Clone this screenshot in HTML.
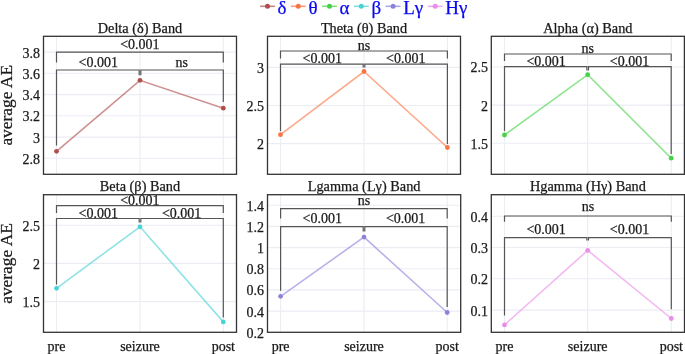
<!DOCTYPE html>
<html><head><meta charset="utf-8"><style>
html,body{margin:0;padding:0;background:#fff;}
body{width:685px;height:354px;overflow:hidden;}
svg{display:block;font-family:"Liberation Serif", serif;will-change:transform;}
text{stroke-width:0.25px;}
</style></head><body>
<svg width="685" height="354" viewBox="0 0 685 354">
<rect width="685" height="354" fill="#fff"/>
<g stroke="#ebedf3" stroke-width="1.1" fill="none">
<line x1="43.5" y1="52.1" x2="236.5" y2="52.1"/>
<line x1="43.5" y1="73.3" x2="236.5" y2="73.3"/>
<line x1="43.5" y1="94.6" x2="236.5" y2="94.6"/>
<line x1="43.5" y1="115.8" x2="236.5" y2="115.8"/>
<line x1="43.5" y1="137.1" x2="236.5" y2="137.1"/>
<line x1="43.5" y1="158.3" x2="236.5" y2="158.3"/>
<line x1="56.5" y1="36.3" x2="56.5" y2="174.3"/>
<line x1="140.0" y1="36.3" x2="140.0" y2="174.3"/>
<line x1="223.3" y1="36.3" x2="223.3" y2="174.3"/>
</g>
<g font-size="14px" fill="#1a1a1a" stroke="#1a1a1a" text-anchor="end">
<text x="40.1" y="57.5">3.8</text>
<text x="40.1" y="78.7">3.6</text>
<text x="40.1" y="100.0">3.4</text>
<text x="40.1" y="121.2">3.2</text>
<text x="40.1" y="142.5">3</text>
<text x="40.1" y="163.7">2.8</text>
</g>
<text x="140.0" y="32.8" font-size="14.3px" fill="#1a1a1a" stroke="#1a1a1a" text-anchor="middle">Delta (δ) Band</text>
<polyline points="56.5,151.3 140.0,80.3 223.3,108.2" fill="none" stroke="#b24d4d" stroke-opacity="0.62" stroke-width="1.6"/>
<circle cx="56.5" cy="151.3" r="2.4" fill="#b24d4d"/>
<circle cx="140.0" cy="80.3" r="2.4" fill="#b24d4d"/>
<circle cx="223.3" cy="108.2" r="2.4" fill="#b24d4d"/>
<g stroke="#555555" stroke-width="1.2" fill="none">
<polyline points="56.5,62.5 56.5,52.1 223.3,52.1 223.3,62.5"/>
<polyline points="56.5,145.6 56.5,70.0 139.2,70.0 139.2,75.3"/>
<polyline points="140.8,75.3 140.8,70.0 223.3,70.0 223.3,102.1"/>
</g>
<clipPath id="cDelta"><rect x="43.5" y="36.3" width="193.0" height="138.0"/></clipPath>
<g font-size="14px" fill="#1a1a1a" stroke="#1a1a1a" text-anchor="middle" clip-path="url(#cDelta)">
<text x="139.9" y="49.0">&lt;0.001</text>
<text x="98.25" y="66.5">&lt;0.001</text>
<text x="181.65" y="66.5">ns</text>
</g>
<rect x="43.5" y="36.3" width="193.0" height="138.0" fill="none" stroke="#333333" stroke-width="1.3"/>
<text transform="translate(12.3,105.3) rotate(-90)" font-size="17.4px" fill="#1a1a1a" stroke="#1a1a1a" text-anchor="middle">average AE</text>
<g stroke="#ebedf3" stroke-width="1.1" fill="none">
<line x1="267.5" y1="67.4" x2="460.5" y2="67.4"/>
<line x1="267.5" y1="105.5" x2="460.5" y2="105.5"/>
<line x1="267.5" y1="143.6" x2="460.5" y2="143.6"/>
<line x1="280.5" y1="36.3" x2="280.5" y2="174.3"/>
<line x1="364.0" y1="36.3" x2="364.0" y2="174.3"/>
<line x1="447.4" y1="36.3" x2="447.4" y2="174.3"/>
</g>
<g font-size="14px" fill="#1a1a1a" stroke="#1a1a1a" text-anchor="end">
<text x="264.1" y="72.8">3</text>
<text x="264.1" y="110.9">2.5</text>
<text x="264.1" y="149.0">2</text>
</g>
<text x="364.0" y="32.8" font-size="14.3px" fill="#1a1a1a" stroke="#1a1a1a" text-anchor="middle">Theta (θ) Band</text>
<polyline points="280.5,134.7 364.0,71.5 447.4,147.5" fill="none" stroke="#fa7444" stroke-opacity="0.62" stroke-width="1.6"/>
<circle cx="280.5" cy="134.7" r="2.4" fill="#fa7444"/>
<circle cx="364.0" cy="71.5" r="2.4" fill="#fa7444"/>
<circle cx="447.4" cy="147.5" r="2.4" fill="#fa7444"/>
<g stroke="#555555" stroke-width="1.2" fill="none">
<polyline points="280.5,58.6 280.5,51.0 447.4,51.0 447.4,58.6"/>
<polyline points="280.5,130.9 280.5,64.1 363.2,64.1 363.2,67.4"/>
<polyline points="364.8,67.4 364.8,64.1 447.4,64.1 447.4,144.0"/>
</g>
<clipPath id="cTheta"><rect x="267.5" y="36.3" width="193.0" height="138.0"/></clipPath>
<g font-size="14px" fill="#1a1a1a" stroke="#1a1a1a" text-anchor="middle" clip-path="url(#cTheta)">
<text x="363.95" y="50.0">ns</text>
<text x="322.25" y="63.2">&lt;0.001</text>
<text x="405.7" y="63.2">&lt;0.001</text>
</g>
<rect x="267.5" y="36.3" width="193.0" height="138.0" fill="none" stroke="#333333" stroke-width="1.3"/>
<g stroke="#ebedf3" stroke-width="1.1" fill="none">
<line x1="491.3" y1="67.0" x2="684.4" y2="67.0"/>
<line x1="491.3" y1="105.1" x2="684.4" y2="105.1"/>
<line x1="491.3" y1="143.2" x2="684.4" y2="143.2"/>
<line x1="504.5" y1="36.3" x2="504.5" y2="174.3"/>
<line x1="587.7" y1="36.3" x2="587.7" y2="174.3"/>
<line x1="671.2" y1="36.3" x2="671.2" y2="174.3"/>
</g>
<g font-size="14px" fill="#1a1a1a" stroke="#1a1a1a" text-anchor="end">
<text x="487.90000000000003" y="72.4">2.5</text>
<text x="487.90000000000003" y="110.5">2</text>
<text x="487.90000000000003" y="148.6">1.5</text>
</g>
<text x="587.85" y="32.8" font-size="14.3px" fill="#1a1a1a" stroke="#1a1a1a" text-anchor="middle">Alpha (α) Band</text>
<polyline points="504.5,135.0 587.7,74.7 671.2,158.2" fill="none" stroke="#46d246" stroke-opacity="0.62" stroke-width="1.6"/>
<circle cx="504.5" cy="135.0" r="2.4" fill="#46d246"/>
<circle cx="587.7" cy="74.7" r="2.4" fill="#46d246"/>
<circle cx="671.2" cy="158.2" r="2.4" fill="#46d246"/>
<g stroke="#555555" stroke-width="1.2" fill="none">
<polyline points="504.5,61.0 504.5,54.0 671.2,54.0 671.2,61.0"/>
<polyline points="504.5,130.9 504.5,66.7 586.9000000000001,66.7 586.9000000000001,70.5"/>
<polyline points="588.5,70.5 588.5,66.7 671.2,66.7 671.2,154.1"/>
</g>
<clipPath id="cAlpha"><rect x="491.3" y="36.3" width="193.1" height="138.0"/></clipPath>
<g font-size="14px" fill="#1a1a1a" stroke="#1a1a1a" text-anchor="middle" clip-path="url(#cAlpha)">
<text x="587.85" y="52.8">ns</text>
<text x="546.1" y="65.6">&lt;0.001</text>
<text x="629.45" y="65.6">&lt;0.001</text>
</g>
<rect x="491.3" y="36.3" width="193.1" height="138.0" fill="none" stroke="#333333" stroke-width="1.3"/>
<g stroke="#ebedf3" stroke-width="1.1" fill="none">
<line x1="43.5" y1="225.2" x2="236.5" y2="225.2"/>
<line x1="43.5" y1="263.4" x2="236.5" y2="263.4"/>
<line x1="43.5" y1="301.6" x2="236.5" y2="301.6"/>
<line x1="56.5" y1="194.7" x2="56.5" y2="332.3"/>
<line x1="140.0" y1="194.7" x2="140.0" y2="332.3"/>
<line x1="223.3" y1="194.7" x2="223.3" y2="332.3"/>
</g>
<g font-size="14px" fill="#1a1a1a" stroke="#1a1a1a" text-anchor="end">
<text x="40.1" y="230.6">2.5</text>
<text x="40.1" y="268.8">2</text>
<text x="40.1" y="307.0">1.5</text>
</g>
<text x="140.0" y="190.5" font-size="14.3px" fill="#1a1a1a" stroke="#1a1a1a" text-anchor="middle">Beta (β) Band</text>
<polyline points="56.5,288.3 140.0,226.8 223.3,321.9" fill="none" stroke="#4bd2d7" stroke-opacity="0.62" stroke-width="1.6"/>
<circle cx="56.5" cy="288.3" r="2.4" fill="#4bd2d7"/>
<circle cx="140.0" cy="226.8" r="2.4" fill="#4bd2d7"/>
<circle cx="223.3" cy="321.9" r="2.4" fill="#4bd2d7"/>
<g stroke="#555555" stroke-width="1.2" fill="none">
<polyline points="56.5,212.9 56.5,205.6 223.3,205.6 223.3,212.9"/>
<polyline points="56.5,284.4 56.5,218.5 139.2,218.5 139.2,222.5"/>
<polyline points="140.8,222.5 140.8,218.5 223.3,218.5 223.3,317.6"/>
</g>
<clipPath id="cBeta"><rect x="43.5" y="194.7" width="193.0" height="137.6"/></clipPath>
<g font-size="14px" fill="#1a1a1a" stroke="#1a1a1a" text-anchor="middle" clip-path="url(#cBeta)">
<text x="139.9" y="204.6">&lt;0.001</text>
<text x="98.25" y="217.7">&lt;0.001</text>
<text x="181.65" y="217.7">&lt;0.001</text>
</g>
<rect x="43.5" y="194.7" width="193.0" height="137.6" fill="none" stroke="#333333" stroke-width="1.3"/>
<g font-size="14px" fill="#1a1a1a" stroke="#1a1a1a" text-anchor="middle">
<text x="56.5" y="350.5">pre</text>
<text x="140.0" y="350.5">seizure</text>
<text x="223.3" y="350.5">post</text>
</g>
<text transform="translate(12.3,263.5) rotate(-90)" font-size="17.4px" fill="#1a1a1a" stroke="#1a1a1a" text-anchor="middle">average AE</text>
<g stroke="#ebedf3" stroke-width="1.1" fill="none">
<line x1="267.5" y1="205.2" x2="460.7" y2="205.2"/>
<line x1="267.5" y1="226.4" x2="460.7" y2="226.4"/>
<line x1="267.5" y1="247.6" x2="460.7" y2="247.6"/>
<line x1="267.5" y1="268.7" x2="460.7" y2="268.7"/>
<line x1="267.5" y1="289.9" x2="460.7" y2="289.9"/>
<line x1="267.5" y1="311.1" x2="460.7" y2="311.1"/>
<line x1="280.6" y1="194.7" x2="280.6" y2="332.3"/>
<line x1="364.0" y1="194.7" x2="364.0" y2="332.3"/>
<line x1="447.2" y1="194.7" x2="447.2" y2="332.3"/>
</g>
<g font-size="14px" fill="#1a1a1a" stroke="#1a1a1a" text-anchor="end">
<text x="264.1" y="210.6">1.4</text>
<text x="264.1" y="231.8">1.2</text>
<text x="264.1" y="253.0">1</text>
<text x="264.1" y="274.1">0.8</text>
<text x="264.1" y="295.3">0.6</text>
<text x="264.1" y="316.5">0.4</text>
<text x="264.1" y="337.7">0.2</text>
</g>
<text x="364.1" y="190.5" font-size="14.3px" fill="#1a1a1a" stroke="#1a1a1a" text-anchor="middle">Lgamma (Lγ) Band</text>
<polyline points="280.6,296.3 364.0,237.1 447.2,312.5" fill="none" stroke="#8c82dc" stroke-opacity="0.62" stroke-width="1.6"/>
<circle cx="280.6" cy="296.3" r="2.4" fill="#8c82dc"/>
<circle cx="364.0" cy="237.1" r="2.4" fill="#8c82dc"/>
<circle cx="447.2" cy="312.5" r="2.4" fill="#8c82dc"/>
<g stroke="#555555" stroke-width="1.2" fill="none">
<polyline points="280.6,218.5 280.6,208.6 447.2,208.6 447.2,218.5"/>
<polyline points="280.6,290.7 280.6,226.6 363.2,226.6 363.2,231.4"/>
<polyline points="364.8,231.4 364.8,226.6 447.2,226.6 447.2,307.1"/>
</g>
<clipPath id="cLgamma"><rect x="267.5" y="194.7" width="193.2" height="137.6"/></clipPath>
<g font-size="14px" fill="#1a1a1a" stroke="#1a1a1a" text-anchor="middle" clip-path="url(#cLgamma)">
<text x="363.9" y="205.2">ns</text>
<text x="322.3" y="223.4">&lt;0.001</text>
<text x="405.6" y="223.4">&lt;0.001</text>
</g>
<rect x="267.5" y="194.7" width="193.2" height="137.6" fill="none" stroke="#333333" stroke-width="1.3"/>
<g font-size="14px" fill="#1a1a1a" stroke="#1a1a1a" text-anchor="middle">
<text x="280.6" y="350.5">pre</text>
<text x="364.0" y="350.5">seizure</text>
<text x="447.2" y="350.5">post</text>
</g>
<g stroke="#ebedf3" stroke-width="1.1" fill="none">
<line x1="491.3" y1="216.3" x2="684.5" y2="216.3"/>
<line x1="491.3" y1="247.5" x2="684.5" y2="247.5"/>
<line x1="491.3" y1="278.8" x2="684.5" y2="278.8"/>
<line x1="491.3" y1="310.1" x2="684.5" y2="310.1"/>
<line x1="504.5" y1="194.7" x2="504.5" y2="332.3"/>
<line x1="587.7" y1="194.7" x2="587.7" y2="332.3"/>
<line x1="671.3" y1="194.7" x2="671.3" y2="332.3"/>
</g>
<g font-size="14px" fill="#1a1a1a" stroke="#1a1a1a" text-anchor="end">
<text x="487.90000000000003" y="221.7">0.4</text>
<text x="487.90000000000003" y="252.9">0.3</text>
<text x="487.90000000000003" y="284.2">0.2</text>
<text x="487.90000000000003" y="315.5">0.1</text>
</g>
<text x="587.9" y="190.5" font-size="14.3px" fill="#1a1a1a" stroke="#1a1a1a" text-anchor="middle">Hgamma (Hγ) Band</text>
<polyline points="504.5,324.9 587.7,250.4 671.3,318.5" fill="none" stroke="#eb8ce8" stroke-opacity="0.62" stroke-width="1.6"/>
<circle cx="504.5" cy="324.9" r="2.4" fill="#eb8ce8"/>
<circle cx="587.7" cy="250.4" r="2.4" fill="#eb8ce8"/>
<circle cx="671.3" cy="318.5" r="2.4" fill="#eb8ce8"/>
<g stroke="#555555" stroke-width="1.2" fill="none">
<polyline points="504.5,221.8 504.5,216.0 671.3,216.0 671.3,221.8"/>
<polyline points="504.5,315.4 504.5,237.6 586.9000000000001,237.6 586.9000000000001,240.5"/>
<polyline points="588.5,240.5 588.5,237.6 671.3,237.6 671.3,309.2"/>
</g>
<clipPath id="cHgamma"><rect x="491.3" y="194.7" width="193.2" height="137.6"/></clipPath>
<g font-size="14px" fill="#1a1a1a" stroke="#1a1a1a" text-anchor="middle" clip-path="url(#cHgamma)">
<text x="587.9" y="211.3">ns</text>
<text x="546.1" y="234.2">&lt;0.001</text>
<text x="629.5" y="234.2">&lt;0.001</text>
</g>
<rect x="491.3" y="194.7" width="193.2" height="137.6" fill="none" stroke="#333333" stroke-width="1.3"/>
<g font-size="14px" fill="#1a1a1a" stroke="#1a1a1a" text-anchor="middle">
<text x="504.5" y="350.5">pre</text>
<text x="587.7" y="350.5">seizure</text>
<text x="671.3" y="350.5">post</text>
</g>
<line x1="260.1" y1="6.3" x2="274.9" y2="6.3" stroke="#b24d4d" stroke-opacity="0.7" stroke-width="1.6"/>
<circle cx="267.5" cy="6.3" r="2.5" fill="#b24d4d"/>
<text x="277.6" y="13.7" font-size="19px" fill="#0a0af0" stroke="#0a0af0">δ</text>
<line x1="290.9" y1="6.3" x2="305.7" y2="6.3" stroke="#fa7444" stroke-opacity="0.7" stroke-width="1.6"/>
<circle cx="298.3" cy="6.3" r="2.5" fill="#fa7444"/>
<text x="308.4" y="13.7" font-size="19px" fill="#0a0af0" stroke="#0a0af0">θ</text>
<line x1="322.1" y1="6.3" x2="336.9" y2="6.3" stroke="#46d246" stroke-opacity="0.7" stroke-width="1.6"/>
<circle cx="329.5" cy="6.3" r="2.5" fill="#46d246"/>
<text x="339.6" y="13.7" font-size="19px" fill="#0a0af0" stroke="#0a0af0">α</text>
<line x1="353.9" y1="6.3" x2="368.7" y2="6.3" stroke="#4bd2d7" stroke-opacity="0.7" stroke-width="1.6"/>
<circle cx="361.3" cy="6.3" r="2.5" fill="#4bd2d7"/>
<text x="371.4" y="13.7" font-size="19px" fill="#0a0af0" stroke="#0a0af0">β</text>
<line x1="385.7" y1="6.3" x2="400.5" y2="6.3" stroke="#8c82dc" stroke-opacity="0.7" stroke-width="1.6"/>
<circle cx="393.1" cy="6.3" r="2.5" fill="#8c82dc"/>
<text x="403.2" y="13.7" font-size="19px" fill="#0a0af0" stroke="#0a0af0">Lγ</text>
<line x1="427.8" y1="6.3" x2="442.6" y2="6.3" stroke="#eb8ce8" stroke-opacity="0.7" stroke-width="1.6"/>
<circle cx="435.2" cy="6.3" r="2.5" fill="#eb8ce8"/>
<text x="445.3" y="13.7" font-size="19px" fill="#0a0af0" stroke="#0a0af0">Hγ</text>
</svg>
</body></html>
